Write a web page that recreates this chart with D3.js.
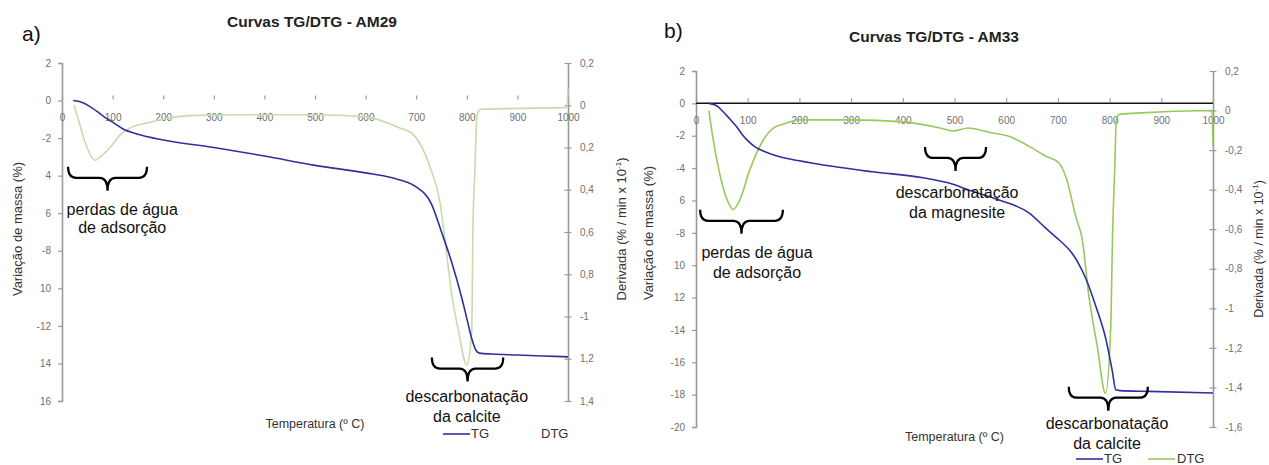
<!DOCTYPE html>
<html>
<head>
<meta charset="utf-8">
<script src="https://cdn.jsdelivr.net/npm/d3@7"></script>
<style>
  body { margin: 0; background: #fff; }
  svg { display: block; font-family: "Liberation Sans", Arial, sans-serif; }
</style>
</head>
<body>
<svg id="chart" width="1269" height="465"></svg>
<script>
// ---- Shared axis values ----
const tempTicks = [0, 100, 200, 300, 400, 500, 600, 700, 800, 900, 1000];
const tempTickLabels = ["0", "100", "200", "300", "400", "500", "600", "700", "800", "900", "1000"];

// ---- AM29 ----
const am29TgTemp = [22, 40, 60, 80, 100, 120, 150, 200, 300, 400, 500, 600, 650, 700, 730, 750, 770, 790, 800, 810, 818, 825, 850, 900, 950, 1000];
const am29TG     = [0, -0.1, -0.4, -0.8, -1.15, -1.5, -1.8, -2.1, -2.5, -2.95, -3.45, -3.85, -4.1, -4.6, -5.5, -7.0, -8.6, -10.5, -11.6, -12.7, -13.3, -13.45, -13.5, -13.55, -13.6, -13.65];
const am29DtgTemp = [24, 35, 45, 55, 65, 75, 95, 115, 135, 175, 200, 270, 400, 500, 600, 670, 690, 707, 727, 747, 760, 771, 783, 800, 810, 812, 816, 820, 826, 900, 998, 1000];
const am29DTG     = [0, -0.09, -0.17, -0.23, -0.26, -0.245, -0.2, -0.14, -0.107, -0.08, -0.065, -0.048, -0.045, -0.045, -0.055, -0.11, -0.13, -0.18, -0.29, -0.46, -0.7, -0.91, -1.06, -1.23, -1.06, -0.59, -0.31, -0.05, -0.02, -0.015, -0.01, 0.08];
const am29LeftTicks  = [2, 0, -2, -4, -6, -8, -10, -12, -14, -16];
const am29LeftLabels = ["2", "0", "-2", "4", "6", "-8", "10", "-12", "14", "16"];
const am29RightTicks  = [0.2, 0, -0.2, -0.4, -0.6, -0.8, -1, -1.2, -1.4];
const am29RightLabels = ["0,2", "0", "0,2", "0,4", "0,6", "0,8", "-1", "1,2", "1,4"];
const am29Notes = [
  { lines: ["perdas de água", "de adsorção"], t0: 12, t1: 168, top: -3.53, textT: 119, textLevel: -6.09, gap: 18 },
  { lines: ["descarbonatação", "da calcite"], t0: 731, t1: 872, top: -13.69, textT: 800, textLevel: -16.03, gap: 20 }
];

// ---- AM33 ----
const am33TgTemp = [25, 40, 52, 65, 79, 90, 100, 115, 130, 162, 200, 226, 342, 439, 497, 527, 585, 644, 676, 702, 726, 740, 755, 774, 793, 805, 812, 820, 876, 1000];
const am33TG     = [0, -0.15, -0.5, -0.95, -1.46, -1.95, -2.3, -2.7, -2.95, -3.3, -3.55, -3.7, -4.23, -4.6, -5.0, -5.35, -5.96, -6.77, -7.7, -8.43, -9.2, -9.9, -10.9, -12.6, -14.6, -16.5, -17.7, -17.75, -17.8, -17.9];
const am33DtgTemp = [25, 31, 46, 60, 72, 85, 104, 130, 149, 176, 200, 300, 400, 472, 497, 527, 567, 605, 644, 676, 702, 716, 735, 747, 760, 776, 792, 802, 806, 810, 813, 818, 851, 998, 1000];
const am33DTG     = [0, -0.11, -0.32, -0.45, -0.5, -0.45, -0.3, -0.15, -0.09, -0.063, -0.047, -0.047, -0.057, -0.088, -0.103, -0.088, -0.11, -0.13, -0.18, -0.23, -0.265, -0.34, -0.54, -0.65, -0.94, -1.19, -1.43, -1.11, -0.6, -0.29, -0.05, -0.02, -0.013, 0, -0.18];
const am33LeftTicks  = [2, 0, -2, -4, -6, -8, -10, -12, -14, -16, -18, -20];
const am33LeftLabels = ["2", "0", "-2", "-4", "6", "-8", "10", "12", "-14", "-16", "-18", "-20"];
const am33RightTicks  = [0.2, 0, -0.2, -0.4, -0.6, -0.8, -1, -1.2, -1.4, -1.6];
const am33RightLabels = ["0,2", "0", "-0,2", "-0,4", "-0,6", "-0,8", "-1", "-1,2", "-1,4", "-1,6"];
const am33Notes = [
  { lines: ["perdas de água", "de adsorção"], t0: 8, t1: 168, top: -6.58, textT: 118, textLevel: -9.54, gap: 20 },
  { lines: ["descarbonatação", "da magnesite"], t0: 443, t1: 561, top: -2.69, textT: 505, textLevel: -5.84, gap: 20 },
  { lines: ["descarbonatação", "da calcite"], t0: 721, t1: 874, top: -17.51, textT: 795, textLevel: -20.1, gap: 20 }
];

const TG_COLOR = "#30309c";
const AXIS_COLOR = "#9a9a9a";
const TICK_TEXT = "#707070";

const svg = d3.select("#chart");

function bracePath(x1, x2, y0) {
  const m = (x1 + x2) / 2, h = y0 + 11, p = y0 + 24, r = 8;
  return `M${x1},${y0} Q${x1},${h} ${x1 + r},${h} L${m - r},${h} Q${m},${h} ${m},${p} ` +
         `Q${m},${h} ${m + r},${h} L${x2 - r},${h} Q${x2},${h} ${x2},${y0}`;
}

function drawPanel(cfg) {
  const g = svg.append("g");
  const x = d3.scaleLinear().domain([0, 1000]).range([cfg.left, cfg.right]);
  const yL = d3.scaleLinear().domain(cfg.leftDomain).range([cfg.bottom, cfg.top]);
  const yR = d3.scaleLinear().domain(cfg.rightDomain).range([cfg.bottom, cfg.top]);

  // panel letter and title
  g.append("text").attr("x", cfg.letterX).attr("y", cfg.letterY)
    .attr("font-size", 21).attr("fill", "#111").text(cfg.letter);
  g.append("text").attr("x", cfg.titleX).attr("y", cfg.titleY)
    .attr("text-anchor", "middle").attr("font-size", 15.5).attr("font-weight", "bold")
    .attr("fill", "#222").text(cfg.title);

  // left axis (mass change)
  const leftAxis = d3.axisLeft(yL).tickValues(cfg.leftTicks).tickSize(4).tickPadding(7)
    .tickFormat((d, i) => cfg.leftLabels[i]);
  const la = g.append("g").attr("transform", `translate(${cfg.left},0)`).call(leftAxis);
  la.select(".domain").attr("stroke", AXIS_COLOR).attr("stroke-width", 1.6);
  la.selectAll(".tick line").attr("stroke", AXIS_COLOR).attr("stroke-width", 1.2);
  la.selectAll(".tick text").attr("fill", TICK_TEXT).attr("font-size", 10)
    .attr("font-family", "Liberation Sans, Arial, sans-serif");

  // right axis (derivative), ticks cross the line
  const rightAxis = d3.axisRight(yR).tickValues(cfg.rightTicks).tickSize(0).tickPadding(12)
    .tickFormat((d, i) => cfg.rightLabels[i]);
  const ra = g.append("g").attr("transform", `translate(${cfg.right},0)`).call(rightAxis);
  ra.select(".domain").attr("stroke", AXIS_COLOR).attr("stroke-width", 1.6);
  ra.selectAll(".tick").append("line").attr("x1", -3.5).attr("x2", 3.5)
    .attr("stroke", AXIS_COLOR).attr("stroke-width", 1.2);
  ra.selectAll(".tick text").attr("fill", TICK_TEXT).attr("font-size", 10)
    .attr("font-family", "Liberation Sans, Arial, sans-serif");

  // temperature axis along the zero line
  const y0 = yL(0);
  if (cfg.zeroLine) {
    g.append("line").attr("x1", cfg.left).attr("x2", cfg.right).attr("y1", y0).attr("y2", y0)
      .attr("stroke", "#111").attr("stroke-width", 1.5);
  }
  const xAxis = d3.axisBottom(x).tickValues(tempTicks).tickSize(0).tickPadding(cfg.xLabelPad)
    .tickFormat((d, i) => tempTickLabels[i]);
  const xa = g.append("g").attr("transform", `translate(0,${y0})`).call(xAxis);
  xa.select(".domain").remove();
  xa.selectAll(".tick").append("line").attr("y1", -1).attr("y2", -5)
    .attr("stroke", AXIS_COLOR).attr("stroke-width", 1.2);
  xa.selectAll(".tick text").attr("fill", TICK_TEXT).attr("font-size", 10)
    .attr("font-family", "Liberation Sans, Arial, sans-serif");

  // axis titles
  g.append("text").attr("transform", `translate(${cfg.leftTitleX},${cfg.leftTitleY}) rotate(-90)`)
    .attr("text-anchor", "middle").attr("font-size", 13).attr("fill", "#333")
    .text("Variação de massa (%)");
  const rt = g.append("text")
    .attr("transform", `translate(${cfg.rightTitleX},${cfg.rightTitleY}) rotate(-90)`)
    .attr("text-anchor", "middle").attr("font-size", cfg.rightTitleSize).attr("fill", "#333");
  rt.append("tspan").text("Derivada (%  / min x 10");
  rt.append("tspan").attr("font-size", 8).attr("dy", -5).text(cfg.superscript);
  rt.append("tspan").attr("dy", 5).text(")");
  g.append("text").attr("x", (cfg.left + cfg.right) / 2).attr("y", cfg.xTitleY)
    .attr("text-anchor", "middle").attr("font-size", 12.5).attr("fill", "#333")
    .text("Temperatura (º C)");

  // curves
  const dtgData = cfg.dtgTemp.map((t, i) => [t, cfg.dtg[i]]);
  const tgData = cfg.tgTemp.map((t, i) => [t, cfg.tg[i]]);
  g.append("path").datum(dtgData)
    .attr("d", d3.line().x(d => x(d[0])).y(d => yR(d[1])).curve(d3.curveMonotoneX))
    .attr("fill", "none").attr("stroke", cfg.dtgColor).attr("stroke-width", 1.6);
  g.append("path").datum(tgData)
    .attr("d", d3.line().x(d => x(d[0])).y(d => yL(d[1])).curve(d3.curveMonotoneX))
    .attr("fill", "none").attr("stroke", TG_COLOR).attr("stroke-width", 1.6);

  // annotations: braces with captions
  cfg.notes.forEach(n => {
    g.append("path").attr("d", bracePath(x(n.t0), x(n.t1), yL(n.top)))
      .attr("fill", "none").attr("stroke", "#000").attr("stroke-width", 2.2);
    const tx = g.append("text").attr("text-anchor", "middle").attr("font-size", 16).attr("fill", "#111");
    n.lines.forEach((line, i) => {
      tx.append("tspan").attr("x", x(n.textT)).attr("y", yL(n.textLevel) + i * n.gap).text(line);
    });
  });

  // legend
  const lg = g.append("g").attr("font-size", 13).attr("fill", "#333");
  lg.append("line").attr("x1", cfg.legendX).attr("x2", cfg.legendX + 27)
    .attr("y1", cfg.legendY - 4).attr("y2", cfg.legendY - 4)
    .attr("stroke", TG_COLOR).attr("stroke-width", 1.6);
  lg.append("text").attr("x", cfg.legendX + 28).attr("y", cfg.legendY).text("TG");
  if (cfg.legendDtgLine) {
    lg.append("line").attr("x1", cfg.legendX + 72).attr("x2", cfg.legendX + 99)
      .attr("y1", cfg.legendY - 4).attr("y2", cfg.legendY - 4)
      .attr("stroke", cfg.dtgColor).attr("stroke-width", 1.6);
  }
  lg.append("text").attr("x", cfg.legendX + cfg.dtgLabelOffset).attr("y", cfg.legendY).text("DTG");
}

drawPanel({
  letter: "a)", letterX: 22, letterY: 41,
  title: "Curvas TG/DTG - AM29", titleX: 312, titleY: 27,
  left: 62, right: 568, top: 63, bottom: 401,
  leftDomain: [-16, 2], rightDomain: [-1.4, 0.2],
  leftTicks: am29LeftTicks, leftLabels: am29LeftLabels,
  rightTicks: am29RightTicks, rightLabels: am29RightLabels,
  zeroLine: false, xLabelPad: 13,
  leftTitleX: 22, leftTitleY: 229, rightTitleX: 626, rightTitleY: 229, rightTitleSize: 13,
  superscript: "-1",
  xTitleY: 428,
  tgTemp: am29TgTemp, tg: am29TG, dtgTemp: am29DtgTemp, dtg: am29DTG,
  dtgColor: "#c6dcaa",
  notes: am29Notes,
  legendX: 443, legendY: 438, legendDtgLine: false, dtgLabelOffset: 98
});

drawPanel({
  letter: "b)", letterX: 664, letterY: 38,
  title: "Curvas TG/DTG - AM33", titleX: 934, titleY: 42,
  left: 696, right: 1213, top: 71, bottom: 427,
  leftDomain: [-20, 2], rightDomain: [-1.6, 0.2],
  leftTicks: am33LeftTicks, leftLabels: am33LeftLabels,
  rightTicks: am33RightTicks, rightLabels: am33RightLabels,
  zeroLine: true, xLabelPad: 14,
  leftTitleX: 653, leftTitleY: 233, rightTitleX: 1263, rightTitleY: 249, rightTitleSize: 12.5,
  superscript: "-1",
  xTitleY: 441,
  tgTemp: am33TgTemp, tg: am33TG, dtgTemp: am33DtgTemp, dtg: am33DTG,
  dtgColor: "#98c95c",
  notes: am33Notes,
  legendX: 1076, legendY: 463, legendDtgLine: true, dtgLabelOffset: 101
});
</script>
</body>
</html>
